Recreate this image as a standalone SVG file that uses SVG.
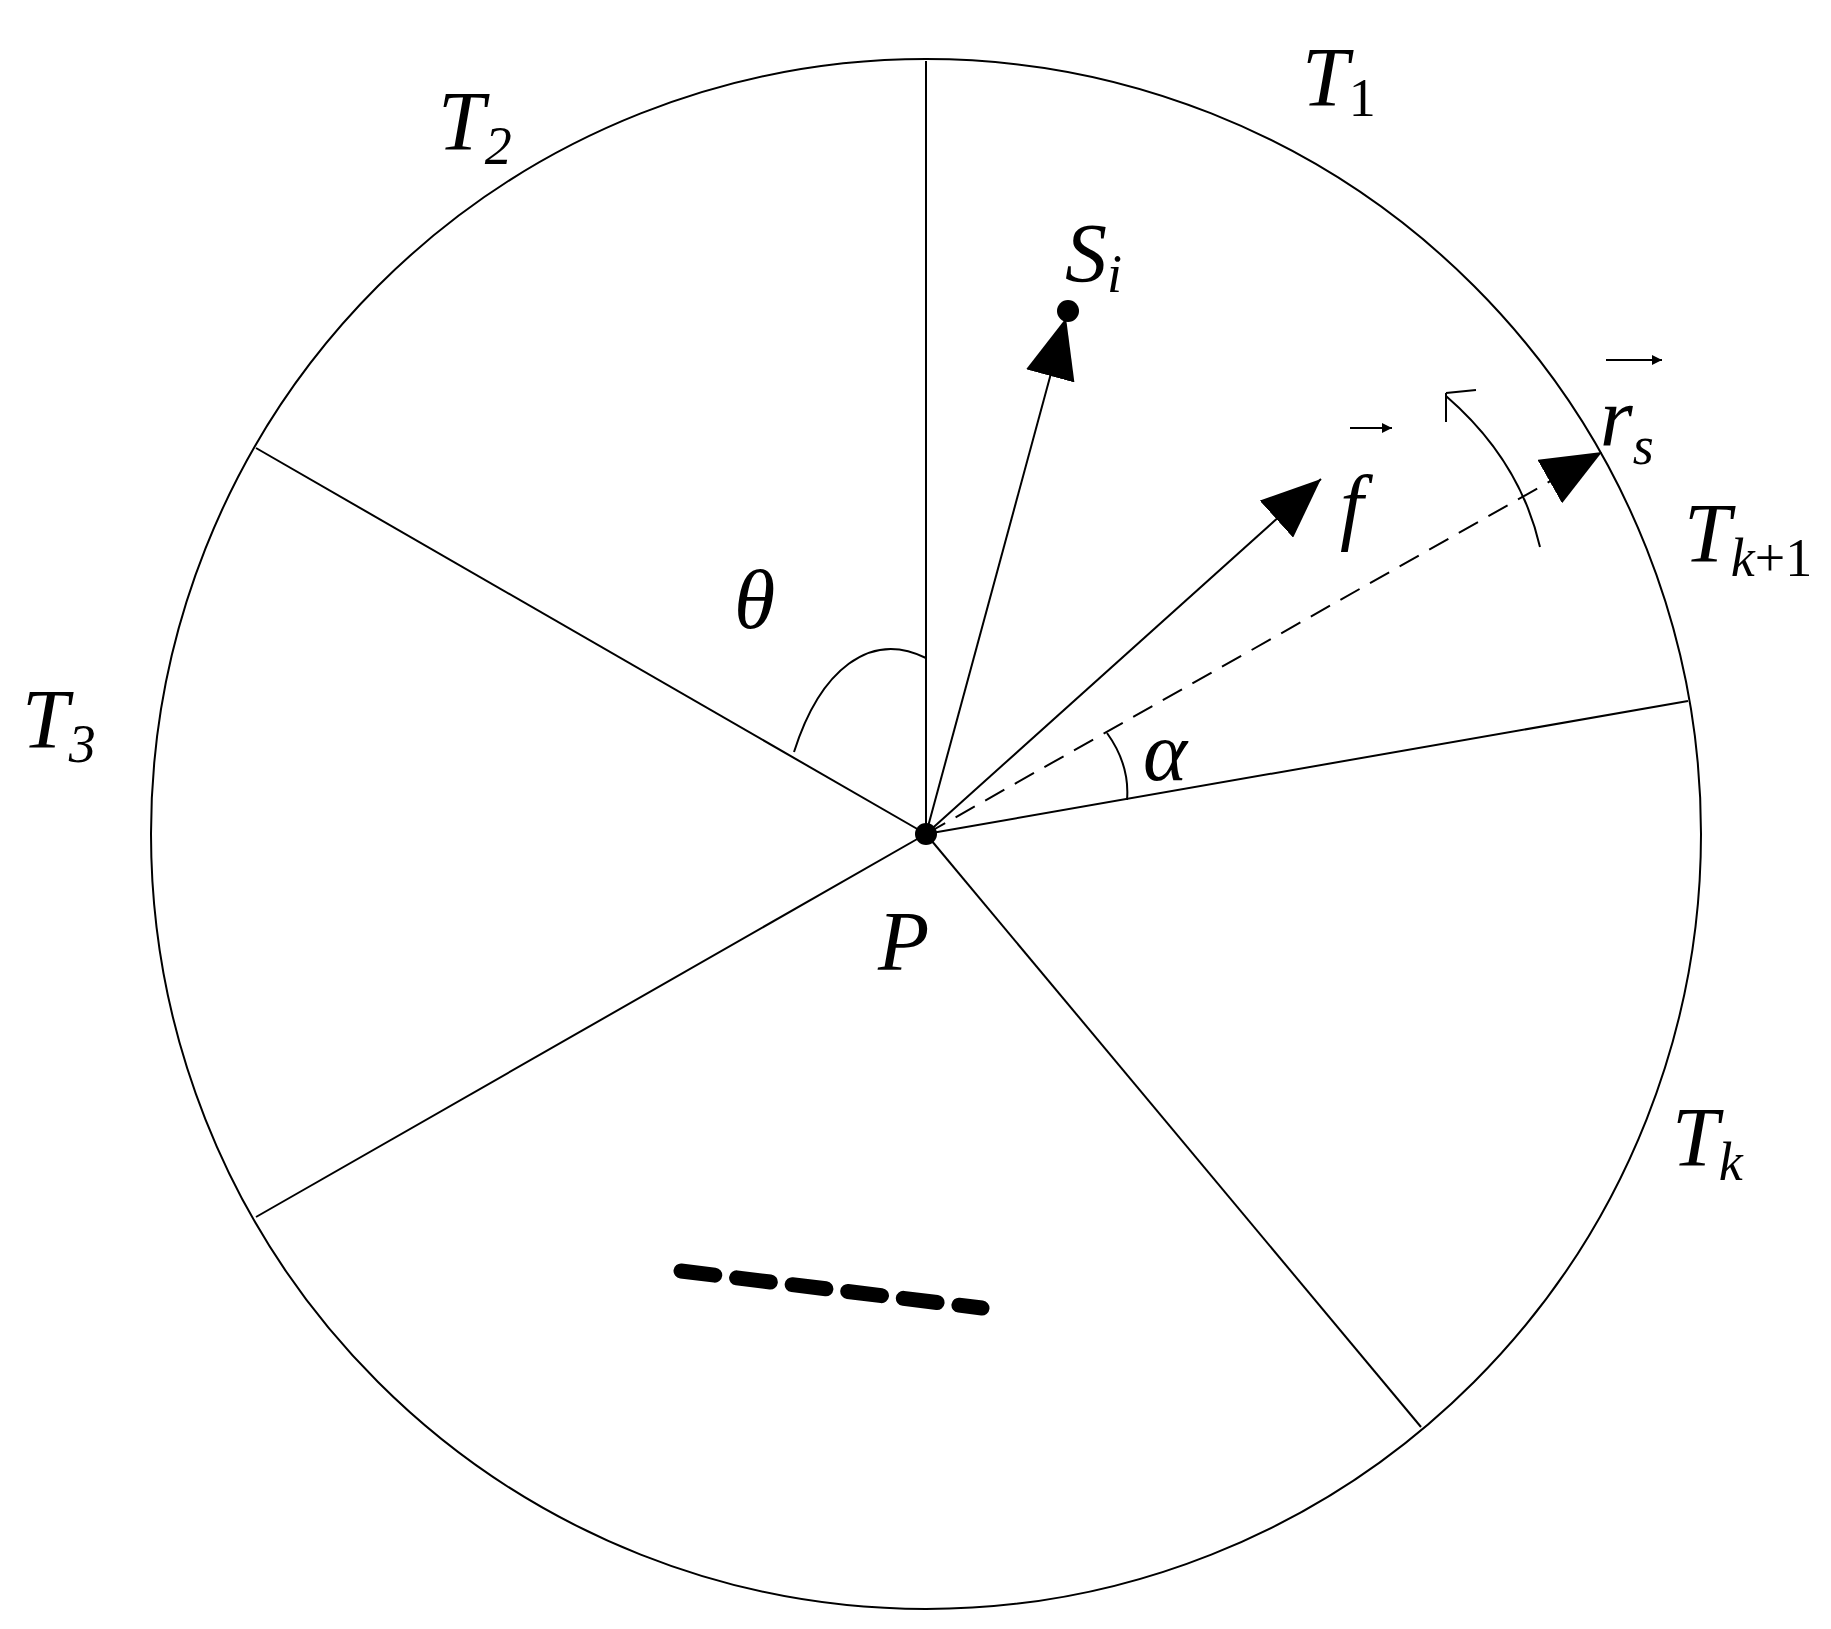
<svg xmlns="http://www.w3.org/2000/svg" width="1831" height="1629" viewBox="0 0 1831 1629">
<style>
.l{stroke:#000;stroke-width:2;fill:none}
.t{font-family:"Liberation Serif",serif;font-style:italic;font-size:84px;fill:#000}
.s{font-size:54px}
.r{font-style:normal}
</style>
<defs>
<marker id="ah" viewBox="0 0 10 10" refX="10" refY="5" markerWidth="10" markerHeight="10" markerUnits="userSpaceOnUse" orient="auto">
<path d="M0,0 L10,5 L0,10 Z"/>
</marker>
<marker id="big" viewBox="0 0 60 50" refX="60" refY="25" markerWidth="60" markerHeight="50" markerUnits="userSpaceOnUse" orient="auto">
<path d="M0,0 L60,25 L0,50 Z"/>
</marker>
</defs>
<rect width="1831" height="1629" fill="#fff"/>
<g id="circle"><circle class="l" cx="926" cy="834" r="775"/></g>
<g id="connectors">
<line class="l" x1="926" y1="834" x2="926" y2="61"/>
<line class="l" x1="926" y1="834" x2="256" y2="448"/>
<line class="l" x1="926" y1="834" x2="256" y2="1217"/>
<line class="l" x1="926" y1="834" x2="1421" y2="1427"/>
<line class="l" x1="926" y1="834" x2="1688" y2="701"/>
<line class="l" x1="926" y1="834" x2="1066" y2="318" marker-end="url(#big)"/>
<line class="l" x1="926" y1="834" x2="1321" y2="479" marker-end="url(#big)"/>
<line class="l" x1="926" y1="834" x2="1602" y2="452" stroke-dasharray="22,12" marker-end="url(#big)"/>
<path class="l" d="M1446,396 Q1520,460 1540,547"/>
<path class="l" d="M1446,393 L1476,390 M1446,393 L1446,422"/>
<path class="l" d="M794,752 C820,670 870,630 926,658"/>
<path class="l" d="M1107,733 Q1130,765 1127,800"/>
<line x1="681" y1="1271" x2="982" y2="1308" stroke="#000" stroke-width="15" stroke-dasharray="34,22" stroke-linecap="round"/>
</g>
<g id="P"><circle cx="926" cy="834" r="11"/><text class="t" x="878" y="970">P</text></g>
<g id="Si"><circle cx="1068" cy="311" r="11"/><text class="t" x="1065" y="282">S<tspan class="s" dy="10">i</tspan></text></g>
<g id="T1"><text class="t" x="1302" y="106">T<tspan class="s r" dy="10">1</tspan></text></g>
<g id="T2"><text class="t" x="438" y="150">T<tspan class="s" dy="14">2</tspan></text></g>
<g id="T3"><text class="t" x="22" y="748">T<tspan class="s" dy="14">3</tspan></text></g>
<g id="Tk1"><text class="t" x="1684" y="562">T<tspan class="s" dy="14">k</tspan><tspan class="s r">+1</tspan></text></g>
<g id="Tk"><text class="t" x="1672" y="1166">T<tspan class="s" dy="14">k</tspan></text></g>
<g id="f"><text class="t" x="1340" y="534">f</text><line x1="1350" y1="428" x2="1392" y2="428" stroke="#000" stroke-width="2" marker-end="url(#ah)"/></g>
<g id="rs"><text class="t" x="1600" y="446">r<tspan class="s" dy="18">s</tspan></text><line x1="1606" y1="360" x2="1662" y2="360" stroke="#000" stroke-width="2" marker-end="url(#ah)"/></g>
<g id="theta"><text class="t" x="734" y="628">θ</text></g>
<g id="alpha"><text class="t" x="1143" y="780">α</text></g>
</svg>
